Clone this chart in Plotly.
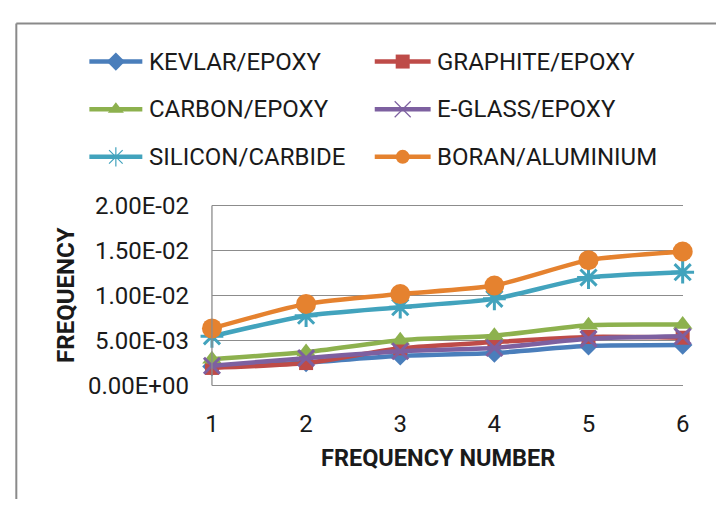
import plotly.graph_objects as go

# Natural frequency of composite plates for the first six modes
freq_number = [1, 2, 3, 4, 5, 6]
kevlar_epoxy = [0.00212, 0.00256, 0.00330, 0.00362, 0.00441, 0.00452]
graphite_epoxy = [0.00196, 0.00250, 0.00414, 0.00483, 0.00540, 0.00532]
carbon_epoxy = [0.00293, 0.00372, 0.00504, 0.00554, 0.00670, 0.00677]
eglass_epoxy = [0.00220, 0.00305, 0.00381, 0.00418, 0.00519, 0.00547]
silicon_carbide = [0.00547, 0.00776, 0.00871, 0.00963, 0.01199, 0.01259]
boran_aluminium = [0.00635, 0.00907, 0.01016, 0.01111, 0.01393, 0.01489]

y_ticks = [0, 0.005, 0.01, 0.015, 0.02]
y_tick_labels = ["0.00E+00", "5.00E-03", "1.00E-02", "1.50E-02", "2.00E-02"]

series = [
    ("KEVLAR/EPOXY", kevlar_epoxy, "#4A7EBB", "diamond", 15, 0),
    ("GRAPHITE/EPOXY", graphite_epoxy, "#BE4B48", "square", 14, 0),
    ("CARBON/EPOXY", carbon_epoxy, "#8DB14E", "triangle-up", 17, 0),
    ("E-GLASS/EPOXY", eglass_epoxy, "#7D60A0", "x-thin", 16, 3),
    ("SILICON/CARBIDE", silicon_carbide, "#42A3BD", "asterisk", 19, 3),
    ("BORAN/ALUMINIUM", boran_aluminium, "#E5822F", "circle", 20, 0),
]

W, H = 723, 511
FONT = "Roboto, Open Sans, sans-serif"
TEXT = "#1a1a1a"
GRID = "#8C8C8C"

# plot area in pixels (y range padded by a couple of pixels so the end gridlines are kept)
px_left, px_right = 209, 689
px_top, px_bottom = 203, 392
pad_px = 2.0
y_per_px = (y_ticks[-1] - y_ticks[0]) / (px_bottom - px_top)
y_range = [y_ticks[0] - pad_px * y_per_px, y_ticks[-1] + pad_px * y_per_px]

fig = go.Figure()

for name, vals, color, sym, size, lw in series:
    marker = dict(symbol=sym, size=size, color=color)
    if lw:
        marker["line"] = dict(color=color, width=lw)
    fig.add_trace(go.Scatter(
        x=freq_number, y=vals, name=name, mode="lines+markers",
        line=dict(color=color, width=4.5, shape="spline", smoothing=0.6),
        marker=marker, cliponaxis=False, showlegend=False,
    ))

# two-column legend drawn on an overlay axis spanning the whole figure (pixel units)
leg_cols = [(84, 138, 143), (375, 432, 436)]
leg_rows = [52, 102, 152]
for i, (name, vals, color, sym, size, lw) in enumerate(series):
    x0, x1, xt = leg_cols[i % 2]
    yc = leg_rows[i // 2]
    thin = sym in ("x-thin", "asterisk")
    marker = dict(symbol=sym, size=16 if thin else 14, color=color)
    if thin:
        marker["line"] = dict(color=color, width=1.2)
    fig.add_trace(go.Scatter(
        x=[x0, x1], y=[yc, yc], mode="lines", xaxis="x2", yaxis="y2",
        line=dict(color=color, width=4.5), showlegend=False, hoverinfo="skip",
    ))
    fig.add_trace(go.Scatter(
        x=[(x0 + x1) / 2], y=[yc], mode="markers", xaxis="x2", yaxis="y2",
        marker=marker, showlegend=False, hoverinfo="skip", cliponaxis=False,
    ))
    fig.add_annotation(
        x=xt, y=yc, xref="x2", yref="y2", text=name, showarrow=False,
        xanchor="left", yanchor="middle",
        font=dict(family=FONT, size=24, color=TEXT),
    )

fig.update_layout(
    width=W, height=H,
    margin=dict(l=0, r=0, t=0, b=0),
    paper_bgcolor="white", plot_bgcolor="rgba(0,0,0,0)",
    xaxis=dict(
        domain=[px_left / W, px_right / W], range=[1, 6],
        tickvals=freq_number, ticktext=[str(v) for v in freq_number],
        showgrid=False, zeroline=False, showline=False, ticks="",
        ticklabelstandoff=20,
        tickfont=dict(family=FONT, size=24, color=TEXT),
    ),
    yaxis=dict(
        domain=[1 - (px_bottom + pad_px) / H, 1 - (px_top - pad_px) / H],
        range=y_range,
        tickvals=y_ticks, ticktext=y_tick_labels,
        showgrid=True, gridcolor=GRID, gridwidth=1.3,
        zeroline=False, showline=False,
        ticks="", ticklabelstandoff=22,
        tickfont=dict(family=FONT, size=24, color=TEXT),
    ),
    xaxis2=dict(domain=[0, 1], range=[0, W], visible=False, fixedrange=True),
    yaxis2=dict(domain=[0, 1], range=[H, 0], visible=False, fixedrange=True),
    showlegend=False,
)

# value axis line along the left edge of the plot area
fig.add_shape(type="line", xref="paper", yref="paper",
              x0=px_left / W, x1=px_left / W,
              y0=1 - px_bottom / H, y1=1 - px_top / H,
              line=dict(color=GRID, width=1.3))

# axis titles
fig.add_annotation(
    x=440 / W, y=1 - 468 / H, xref="paper", yref="paper",
    xanchor="center", yanchor="middle",
    text="<b>FREQUENCY NUMBER</b>", showarrow=False,
    font=dict(family=FONT, size=23.5, color=TEXT),
)
fig.add_annotation(
    x=60 / W, y=1 - 297 / H, xref="paper", yref="paper",
    xanchor="center", yanchor="middle",
    text="<b>FREQUENCY</b>", showarrow=False, textangle=-90,
    font=dict(family=FONT, size=24, color=TEXT),
)

# chart frame (top and left edges)
fig.add_shape(type="line", xref="paper", yref="paper",
              x0=9.5 / W, x1=1, y0=1 - 12 / H, y1=1 - 12 / H,
              line=dict(color="#8A8A8A", width=2))
fig.add_shape(type="line", xref="paper", yref="paper",
              x0=9.5 / W, x1=9.5 / W, y0=0, y1=1 - 12 / H,
              line=dict(color="#8A8A8A", width=2))

fig.write_html("out.html")
